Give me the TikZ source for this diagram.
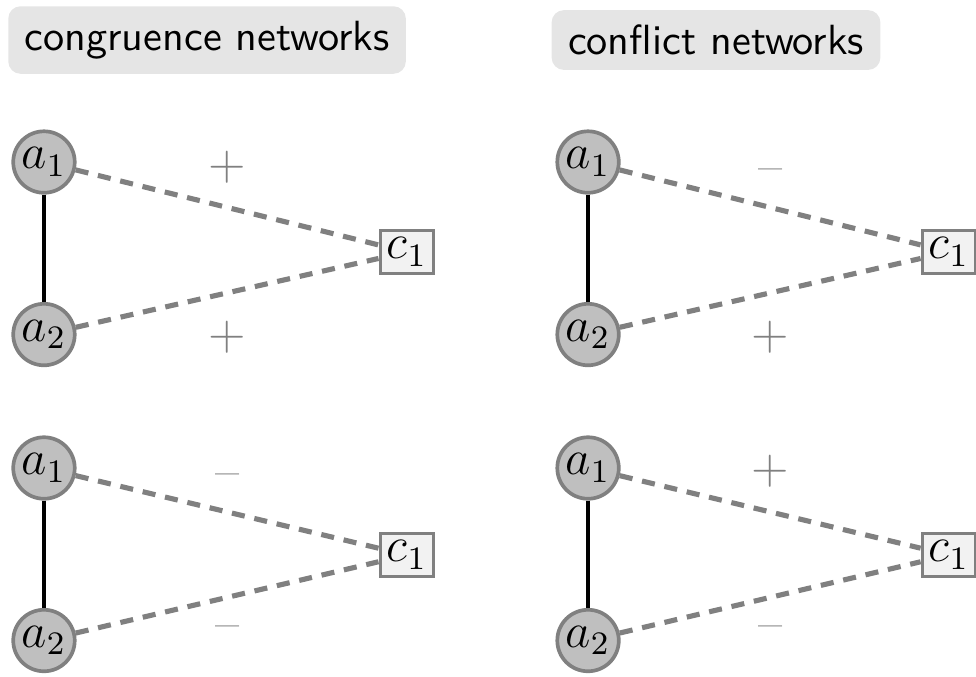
\documentclass[tikz,border=0pt]{standalone}
\usetikzlibrary{positioning}

\begin{document}
\begin{tikzpicture}[
    agent/.style={circle, draw=gray, line width=0.9pt, fill=gray!50, minimum size=15pt, inner sep=0pt, font=\large},
    claim/.style={rectangle, draw=gray, line width=0.9pt, fill=gray!10, minimum width=13pt, minimum height=10.5pt, inner sep=1pt, font=\large},
    heading/.style={rectangle, rounded corners=3pt, fill=gray!20, font=\fontsize{10.3}{12}\sffamily, inner xsep=4pt, inner ysep=3.6pt},
    tie/.style={line width=1.1pt},
    stance/.style={gray, line width=1.25pt, dash pattern=on 3.2pt off 2.4pt},
    sign/.style={gray, inner sep=3.33pt, font=\large}
  ]
\useasboundingbox (0,0) rectangle (8.367,-5.795);

% Headings
\node[heading] (cong) at (1.775,-0.343) {congruence networks};
\node[heading] (conf) at (6.138,-0.343) {conflict networks};

% Congruence, both positive
\node[agent] (pp-a1) at (0.377,-1.389) {$a_1$};
\node[agent, below=0.92cm of pp-a1] (pp-a2) {$a_2$};
\node[claim] (pp-c1) at (3.489,-2.160) {$c_1$};
\draw[tie] (pp-a1) -- (pp-a2);
\draw[stance] (pp-a1) -- node[sign, above=2pt] {$+$} (pp-c1);
\draw[stance] (pp-a2) -- node[sign, below=2.9pt] {$+$} (pp-c1);

% Congruence, both negative
\node[agent] (mm-a1) at (0.377,-4.012) {$a_1$};
\node[agent, below=0.92cm of mm-a1] (mm-a2) {$a_2$};
\node[claim] (mm-c1) at (3.489,-4.758) {$c_1$};
\draw[tie] (mm-a1) -- (mm-a2);
\draw[stance] (mm-a1) -- node[sign, above=2pt] {--} (mm-c1);
\draw[stance] (mm-a2) -- node[sign, below=2.9pt] {--} (mm-c1);

% Conflict, negative and positive
\node[agent] (mp-a1) at (5.041,-1.389) {$a_1$};
\node[agent, below=0.92cm of mp-a1] (mp-a2) {$a_2$};
\node[claim] (mp-c1) at (8.136,-2.160) {$c_1$};
\draw[tie] (mp-a1) -- (mp-a2);
\draw[stance] (mp-a1) -- node[sign, above=2pt] {--} (mp-c1);
\draw[stance] (mp-a2) -- node[sign, below=2.9pt] {$+$} (mp-c1);

% Conflict, positive and negative
\node[agent] (pm-a1) at (5.041,-4.012) {$a_1$};
\node[agent, below=0.92cm of pm-a1] (pm-a2) {$a_2$};
\node[claim] (pm-c1) at (8.136,-4.758) {$c_1$};
\draw[tie] (pm-a1) -- (pm-a2);
\draw[stance] (pm-a1) -- node[sign, above=2pt] {$+$} (pm-c1);
\draw[stance] (pm-a2) -- node[sign, below=2.9pt] {--} (pm-c1);

\end{tikzpicture}
\end{document}
